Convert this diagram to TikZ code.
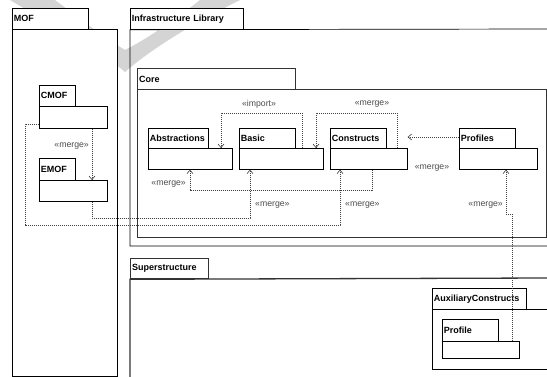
\documentclass[tikz,border=0pt]{standalone}
\usepackage{fontspec}
\setmainfont{Liberation Sans}
\usetikzlibrary{arrows.meta,calc}
\begin{document}
\begin{tikzpicture}[x=1pt,y=-1pt,
 tabbox/.style={draw, fill=white, anchor=north west, inner xsep=1.5pt, inner ysep=0pt, align=left, font=\bfseries\fontsize{9}{10}\selectfont, line width=0.7pt},
 bodybox/.style={draw, fill=white, anchor=north west, inner sep=0pt, line width=0.7pt},
 heavy/.style={line width=1.3pt, draw=black!80},
 thin/.style={line width=0.7pt, draw=black},
 dep/.style={draw=black!75, line width=0.6pt, dash pattern=on 1.2pt off 0.8pt, -{Straight Barb[length=3.5pt,width=6pt]}},
 lbl/.style={font=\fontsize{8.7}{9}\selectfont, text=black!70, inner sep=0pt}
]
\useasboundingbox (0,0) rectangle (547,377);
\fill[white] (0,0) rectangle (547,377);
% watermark swoosh
\fill[black!17] (10,0) .. controls (60,30) and (100,50) .. (125,72) .. controls (150,50) and (190,25) .. (240,0) -- (200,0) .. controls (175,20) and (145,40) .. (125,50) .. controls (100,35) and (75,15) .. (55,0) -- cycle;

% MOF
\node[tabbox, text width=73pt, minimum height=21pt] (moft) at (12,8) {MOF};
\node[bodybox, minimum width=105pt, minimum height=347pt] (mofb) at (12,29) {};

% Infrastructure Library
\node[tabbox, text width=110pt, minimum height=21pt] (inft) at (130,8) {Infrastructure Library};
\coordinate (infne) at (550,29);
\coordinate (infse) at (550,246);
\draw[thin] (infne) -- (inft.south west) |- (infse);

% Core
\node[tabbox, heavy, text width=155pt, minimum height=21pt] (coret) at (137,68) {Core};
\node[bodybox, heavy, minimum width=409pt, minimum height=148pt] (coreb) at (137,89) {};

% Superstructure
\node[tabbox, heavy, text width=75pt, minimum height=20pt] (supt) at (130,258) {Superstructure};
\coordinate (supne) at (550,278);
\coordinate (supsw) at (130,380);
\draw[heavy] (supne) -- (supt.south west) -- (supsw);

% CMOF / EMOF
\node[tabbox, text width=33pt, minimum height=21pt] (cmoft) at (39,85) {CMOF};
\node[bodybox, minimum width=68pt, minimum height=22pt] (cmofb) at (39,106) {};
\node[tabbox, text width=33pt, minimum height=22pt] (emoft) at (39,158) {EMOF};
\node[bodybox, minimum width=68pt, minimum height=21pt] (emofb) at (39,180) {};

% Core packages
\node[tabbox, text width=57pt, minimum height=20pt] (abst) at (148,128) {Abstractions};
\node[bodybox, minimum width=84pt, minimum height=21pt] (absb) at (148,148) {};
\node[tabbox, text width=53pt, minimum height=20pt] (basict) at (239,128) {Basic};
\node[bodybox, minimum width=84pt, minimum height=21pt] (basicb) at (239,148) {};
\node[tabbox, text width=53pt, minimum height=20pt] (const) at (330,128) {Constructs};
\node[bodybox, minimum width=77pt, minimum height=21pt] (consb) at (330,148) {};
\node[tabbox, text width=53pt, minimum height=20pt] (proft) at (459,128) {Profiles};
\node[bodybox, minimum width=78pt, minimum height=21pt] (profb) at (459,148) {};

% AuxiliaryConstructs / Profile
\node[tabbox, text width=91pt, minimum height=21pt] (auxt) at (432,288) {AuxiliaryConstructs};
\node[bodybox, minimum width=114.5pt, minimum height=60pt] (auxb) at (432,309) {};
\node[tabbox, text width=53pt, minimum height=22pt] (pft) at (442,319) {Profile};
\node[bodybox, minimum width=77pt, minimum height=17pt] (pfb) at (442,341) {};

% dependencies
\draw[dep] ([xshift=53pt]cmofb.south west) -- ([xshift=53pt]emofb.north west);
\node[lbl, anchor=east] at (89,146) {«merge»};

\draw[dep] ([yshift=-18pt]cmofb.north west) -- ++(-14,0) |- (25,225) -| ([xshift=10pt]consb.south west);
\node[lbl, anchor=west] at (345,205) {«merge»};

\draw[dep] ([xshift=53pt]emofb.south west) |- (250,218) -- ([xshift=11pt]basicb.south west);
\node[lbl, anchor=west] at (255,205) {«merge»};

\draw[dep] ([xshift=42pt]consb.south west) |- (190,190) -- ([xshift=42pt]absb.south west);
\node[lbl, anchor=east] at (186,184) {«merge»};

\draw[dep] ([xshift=63pt]basicb.north west) |- (221,113) -- ([xshift=73pt]absb.north west);
\node[lbl] at (259,104) {«import»};

\draw[dep] ([xshift=67pt]consb.north west) |- (316,113) -- ([xshift=77pt]basicb.north west);
\node[lbl] at (372,104) {«merge»};

\draw[dep] ([yshift=11pt]profb.north west) -- ([yshift=11pt]consb.north east);
\node[lbl] at (432,168) {«merge»};

\draw[dep] ([xshift=70pt]pfb.north west) |- (506,214) -- ([xshift=47pt]profb.south west);
\node[lbl, anchor=east] at (503,205) {«merge»};
\end{tikzpicture}
\end{document}
